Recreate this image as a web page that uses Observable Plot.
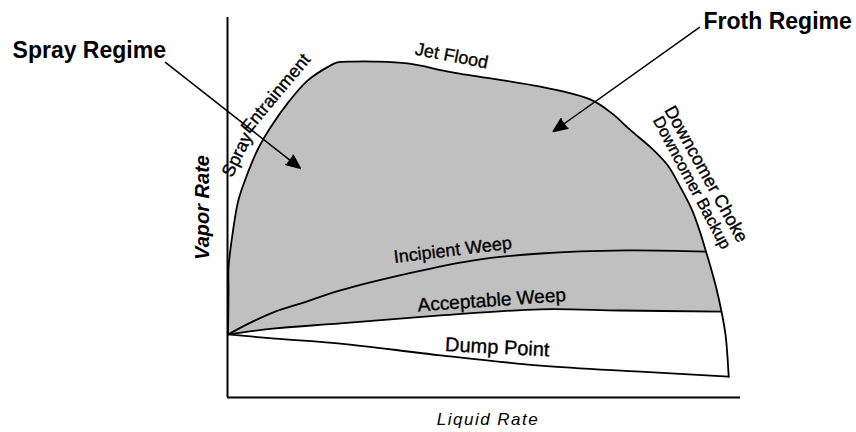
<!DOCTYPE html>
<html>
<head>
<meta charset="utf-8">
<script src="https://cdn.jsdelivr.net/npm/d3@7"></script>
<script src="https://cdn.jsdelivr.net/npm/@observablehq/plot@0.6"></script>
<style>
  html, body { margin: 0; padding: 0; background: #fff; }
  #chart { width: 856px; height: 432px; }
  svg { font-family: "Liberation Sans", Arial, sans-serif; }
</style>
</head>
<body>
<div id="chart"></div>
<script>
// Operating-window curves (liquid rate, vapor rate; relative units 0–100)
const outerBoundary = [[0.1,16.6],[0.2,28.2],[0.2,34.2],[1.0,43.2],[2.1,51.8],[3.9,58.9],[5.8,65.0],[8.4,71.1],[11.7,77.4],[15.6,83.4],[20.1,87.4],[21.4,88.2],[24.6,88.4],[28.5,88.4],[35.1,87.9],[44.1,85.5],[61.0,81.8],[70.8,78.4],[75.0,74.7],[78.6,70.3],[82.5,65.8],[85.8,61.1],[88.3,55.3],[90.6,49.2],[92.2,43.2],[93.2,38.7],[94.2,34.2],[95.3,28.7],[96.3,22.6],[97.1,16.3],[97.7,5.5]];
const incipientWeep = [[0.1,16.6],[4.5,19.7],[9.3,22.6],[14.2,24.7],[22.0,28.2],[35.1,32.6],[48.0,36.1],[61.0,37.9],[77.8,38.7],[93.2,38.4]];
const acceptableWeep = [[0.1,16.6],[9.3,18.2],[22.0,19.5],[41.5,21.6],[61.0,23.2],[76.6,22.9],[96.1,22.6]];
const dumpPoint = [[0.1,16.6],[9.3,15.5],[22.0,14.2],[41.5,11.1],[61.0,8.4],[80.5,6.8],[97.7,5.5]];

// Text content
const curveLabels = ["Spray", "Entrainment", "Jet Flood", "Downcomer Choke", "Downcomer Backup", "Incipient Weep", "Acceptable Weep", "Dump Point"];
const regimeLabels = ["Spray Regime", "Froth Regime"];
const xTitle = "Liquid Rate";
const yTitle = "Vapor Rate";

// Annotation layout (data coordinates)
const curveLabelLayout = [
  {x: 1.9, y: 63.9, rotate: -64, size: 18},
  {x: 9.4, y: 80.0, rotate: -50, size: 18},
  {x: 43.7, y: 89.9, rotate: 11, size: 18},
  {x: 93.3, y: 58.8, rotate: 61, size: 18},
  {x: 90.5, y: 56.5, rotate: 62, size: 16.5},
  {x: 43.9, y: 38.8, rotate: -7, size: 18},
  {x: 51.5, y: 25.6, rotate: -4, size: 19},
  {x: 52.6, y: 13.2, rotate: 3, size: 20}
];
const regimeLayout = [{x: -41.9, y: 91.2}, {x: 92.8, y: 99.0}];
const arrowLayout = [
  {x1: -12.1, y1: 88.2, x2: 14.2, y2: 60.3},
  {x1: 92.0, y1: 97.4, x2: 63.5, y2: 70.0}
];

const toObj = (arr) => arr.map(([x, y]) => ({x, y}));
const cut = outerBoundary.findIndex(d => d[0] >= acceptableWeep[acceptableWeep.length - 1][0]);
const shaded = toObj(outerBoundary.slice(0, cut + 1).concat(acceptableWeep.slice().reverse()));

const curveText = curveLabels.map((t, i) => ({text: t, ...curveLabelLayout[i]}));
const regimeText = regimeLabels.map((t, i) => ({text: t, ...regimeLayout[i]}));

const chart = Plot.plot({
  width: 856,
  height: 432,
  marginTop: 17,
  marginBottom: 35,
  marginLeft: 227,
  marginRight: 116,
  x: {domain: [0, 100], axis: null},
  y: {domain: [0, 100], axis: null},
  marks: [
    Plot.line(shaded, {x: "x", y: "y", fill: "#c0c0c0", stroke: "none", curve: "catmull-rom"}),
    Plot.line(toObj(outerBoundary), {x: "x", y: "y", stroke: "black", strokeWidth: 1.8, curve: "catmull-rom"}),
    Plot.line(toObj(incipientWeep), {x: "x", y: "y", stroke: "black", strokeWidth: 1.8, curve: "catmull-rom"}),
    Plot.line(toObj(acceptableWeep), {x: "x", y: "y", stroke: "black", strokeWidth: 1.8, curve: "catmull-rom"}),
    Plot.line(toObj(dumpPoint), {x: "x", y: "y", stroke: "black", strokeWidth: 1.8, curve: "catmull-rom"}),
    Plot.ruleX([0], {stroke: "black", strokeWidth: 2}),
    Plot.ruleY([0], {stroke: "black", strokeWidth: 2}),
    Plot.arrow(arrowLayout, {x1: "x1", y1: "y1", x2: "x2", y2: "y2", stroke: "black", fill: "black", strokeWidth: 1.5, headLength: 15, headAngle: 46}),
    Plot.text(curveText, {x: "x", y: "y", text: "text", rotate: "rotate", fontSize: "size", fill: "black", stroke: "black", strokeWidth: 0.35, textAnchor: "middle", lineAnchor: "middle"}),
    Plot.text(regimeText, {x: "x", y: "y", text: "text", fontSize: 23, fontWeight: "bold", fill: "black", textAnchor: "start", lineAnchor: "middle"}),
    Plot.text([yTitle], {frameAnchor: "left", dx: -25, rotate: -90, fontSize: 20, fontWeight: "bold", fontStyle: "italic", fill: "black", textAnchor: "middle", lineAnchor: "middle"}),
    Plot.text([xTitle], {frameAnchor: "bottom", dy: 22, dx: 4, fontSize: 17, fontStyle: "italic", fill: "black", textAnchor: "middle", lineAnchor: "middle"})
  ]
});
chart.querySelectorAll("text").forEach(t => {
  if (t.textContent === xTitle) t.setAttribute("letter-spacing", "1.5");
});
document.getElementById("chart").appendChild(chart);
</script>
</body>
</html>
